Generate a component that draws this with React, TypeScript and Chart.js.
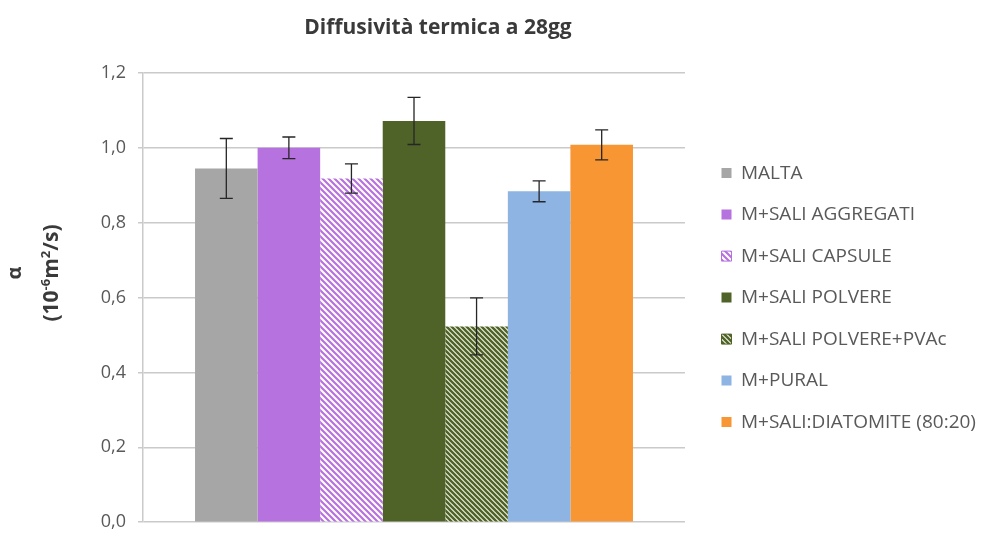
import React, { useEffect, useRef } from "react";
import { Chart, registerables } from "chart.js";

Chart.register(...registerables);

// ---------- data ----------
const chartTitle = "Diffusività termica a 28gg";
const categories = [""];
const seriesNames = [
  "MALTA",
  "M+SALI AGGREGATI",
  "M+SALI CAPSULE",
  "M+SALI POLVERE",
  "M+SALI POLVERE+PVAc",
  "M+PURAL",
  "M+SALI:DIATOMITE (80:20)",
];
const seriesValues = [0.945, 1.0, 0.918, 1.072, 0.523, 0.884, 1.008];
const seriesErrors = [0.08, 0.029, 0.039, 0.063, 0.076, 0.028, 0.04];
const yTickValues = [0, 0.2, 0.4, 0.6, 0.8, 1.0, 1.2];
const yTickLabels = ["0,0", "0,2", "0,4", "0,6", "0,8", "1,0", "1,2"];
const yTitleLine1 = "α";
const yTitleLine2 = [
  { t: "(10", sup: false },
  { t: "-6", sup: true },
  { t: "m", sup: false },
  { t: "2", sup: true },
  { t: "/s)", sup: false },
];

// ---------- styles ----------
const FONT = '"Open Sans", "Noto Sans", sans-serif';
const seriesColors = ["#A6A6A6", "#B672DE", "#B672DE", "#4F6228", "#4F6228", "#8DB4E2", "#F79633"];
const seriesHatch = [null, null, { bg: "#FFFFFF", p: 6, w: 2.2 }, null, { bg: "#EEF3E2", p: 5, w: 2.4 }, null, null];

function makeHatch(bg: string, fg: string, p: number, w: number) {
  const c = document.createElement("canvas");
  c.width = p;
  c.height = p;
  const g = c.getContext("2d")!;
  g.fillStyle = bg;
  g.fillRect(0, 0, p, p);
  g.strokeStyle = fg;
  g.lineWidth = w;
  g.beginPath();
  for (const k of [-1, 0, 1]) {
    g.moveTo(k * p - 1, -1);
    g.lineTo(k * p + p + 1, p + 1);
  }
  g.stroke();
  return g.createPattern(c, "repeat")!;
}

const overlayPlugin = {
  id: "overlay",
  afterDatasetsDraw(chart: any) {
    const ctx = chart.ctx;
    const yScale = chart.scales.y;
    ctx.save();
    ctx.strokeStyle = "#262626";
    ctx.lineWidth = 1.3;
    chart.data.datasets.forEach((ds: any, i: number) => {
      const meta = chart.getDatasetMeta(i);
      const el = meta.data[0];
      if (!el) return;
      const v = seriesValues[i];
      const e = seriesErrors[i];
      const yHi = yScale.getPixelForValue(v + e);
      const yLo = yScale.getPixelForValue(v - e);
      const x = el.x;
      const cap = 6.5;
      ctx.beginPath();
      ctx.moveTo(x, yHi);
      ctx.lineTo(x, yLo);
      ctx.moveTo(x - cap, yHi);
      ctx.lineTo(x + cap, yHi);
      ctx.moveTo(x - cap, yLo);
      ctx.lineTo(x + cap, yLo);
      ctx.stroke();
    });
    ctx.restore();
  },
  afterDraw(chart: any) {
    const ctx = chart.ctx;
    ctx.save();
    // chart title
    ctx.fillStyle = "#3A3A3A";
    ctx.font = `bold 21px ${FONT}`;
    ctx.textAlign = "center";
    ctx.textBaseline = "alphabetic";
    ctx.fillText(chartTitle, 438, 34);

    // y axis title line 1
    ctx.save();
    ctx.translate(21, 273);
    ctx.rotate(-Math.PI / 2);
    ctx.font = `bold 20px ${FONT}`;
    ctx.textAlign = "center";
    ctx.fillText(yTitleLine1, 0, 0);
    ctx.restore();

    // y axis title line 2 with superscripts
    ctx.save();
    ctx.translate(58, 273);
    ctx.rotate(-Math.PI / 2);
    ctx.textAlign = "left";
    const big = `bold 21px ${FONT}`;
    const small = `bold 13px ${FONT}`;
    let total = 0;
    for (const s of yTitleLine2) {
      ctx.font = s.sup ? small : big;
      total += ctx.measureText(s.t).width;
    }
    let x = -total / 2;
    for (const s of yTitleLine2) {
      ctx.font = s.sup ? small : big;
      ctx.fillText(s.t, x, s.sup ? -8 : 0);
      x += ctx.measureText(s.t).width;
    }
    ctx.restore();
    ctx.restore();
  },
};

export default function App() {
  const ref = useRef<HTMLCanvasElement>(null);

  useEffect(() => {
    if (!ref.current) return;
    const fills = seriesColors.map((c, i) => {
      const h = seriesHatch[i];
      return h ? makeHatch(h.bg, c, h.p, h.w) : c;
    });
    const datasets = seriesNames.map((name, i) => ({
      label: name,
      data: [seriesValues[i]],
      backgroundColor: fills[i],
      borderWidth: 0,
    }));

    const chart = new Chart(ref.current, {
      type: "bar",
      data: { labels: categories, datasets },
      options: {
        responsive: false,
        animation: false,
        events: [],
        layout: { padding: { left: 0, top: 73, right: 0, bottom: 8 } },
        datasets: {
          bar: { categoryPercentage: 0.808, barPercentage: 1.0 },
        },
        scales: {
          x: { type: "category", display: false },
          y: {
            type: "linear",
            position: "left",
            min: 0,
            max: 1.2,
            afterFit(s: any) {
              s.width = 143;
            },
            afterBuildTicks(s: any) {
              s.ticks = yTickValues.map((v) => ({ value: v }));
            },
            ticks: {
              padding: 12,
              color: "#595959",
              font: { family: FONT, size: 18 },
              callback: (_v: any, idx: number) => yTickLabels[idx],
            },
            grid: {
              color: "#CACACA",
              lineWidth: 1.5,
              drawTicks: true,
              tickLength: 5,
            },
            border: { display: true, color: "#CACACA", width: 1.5 },
          },
          yPad: {
            type: "linear",
            position: "right",
            display: true,
            grid: { display: false, drawTicks: false },
            border: { display: false },
            ticks: { display: false },
            afterFit(s: any) {
              s.width = 14;
            },
          },
        },
        plugins: {
          title: { display: false },
          tooltip: { enabled: false },
          legend: {
            display: true,
            position: "right",
            align: "center",
            fullSize: false,
            maxWidth: 283,
            labels: {
              boxWidth: 10,
              boxHeight: 10,
              padding: 22.5,
              color: "#595959",
              font: { family: FONT, size: 19 },
              generateLabels(chart: any) {
                return chart.data.datasets.map((ds: any, i: number) => ({
                  text: ds.label,
                  fillStyle: ds.backgroundColor,
                  strokeStyle: seriesColors[i],
                  lineWidth: seriesHatch[i] ? 1 : 0,
                  fontColor: "#595959",
                  hidden: false,
                  datasetIndex: i,
                }));
              },
            },
          },
        },
      },
      plugins: [overlayPlugin],
    } as any);

    return () => chart.destroy();
  }, []);

  return (
    <div style={{ position: "absolute", left: 0, top: 0, width: 982, height: 545, background: "#FFFFFF" }}>
      <canvas ref={ref} width={982} height={545} style={{ display: "block" }} />
    </div>
  );
}
